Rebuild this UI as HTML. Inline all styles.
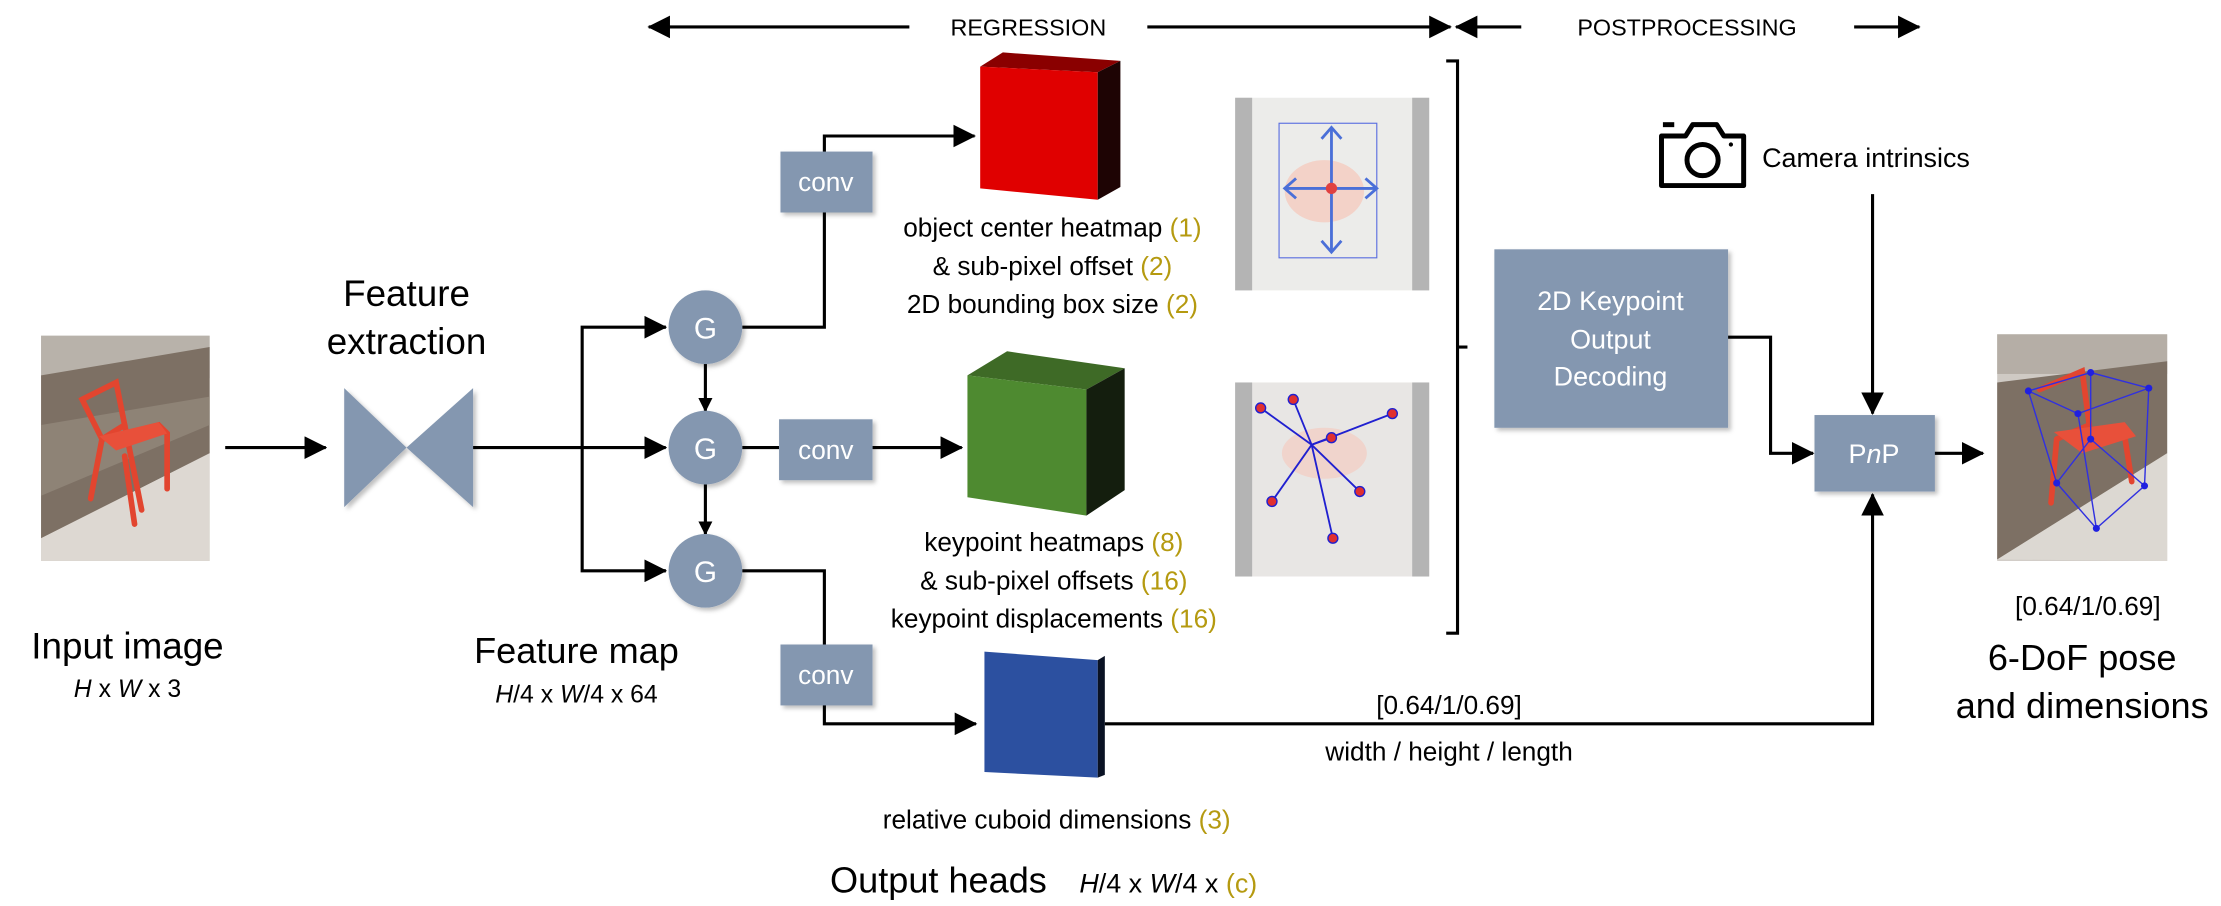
<!DOCTYPE html>
<html><head><meta charset="utf-8"><style>
html,body{margin:0;padding:0;background:#fff;}
svg{display:block;}
text{font-family:"Liberation Sans",sans-serif;fill:#000;}
.y{fill:#b59a10;}
</style></head><body>
<svg width="2221" height="906" viewBox="0 0 1568 639.6" xmlns="http://www.w3.org/2000/svg">
<defs>
<marker id="a" markerWidth="10" markerHeight="10" refX="9" refY="5" orient="auto" markerUnits="userSpaceOnUse" viewBox="0 0 10 10"><path d="M0,0 L10,5 L0,10 z" fill="#000"/></marker>
<marker id="b" markerWidth="16" markerHeight="16" refX="15" refY="8" orient="auto" markerUnits="userSpaceOnUse" viewBox="0 0 16 16"><path d="M0,0 L16,8 L0,16 z" fill="#000"/></marker>
<filter id="sh" x="-10%" y="-10%" width="130%" height="130%"><feDropShadow dx="2" dy="2" stdDeviation="1.5" flood-color="#000" flood-opacity="0.25"/></filter>
</defs>

<g stroke="#000" stroke-width="2.2" fill="none">
<line x1="642" y1="19" x2="458" y2="19" marker-end="url(#b)"/>
<line x1="810" y1="19" x2="1024" y2="19" marker-end="url(#b)"/>
<line x1="1074" y1="19" x2="1028" y2="19" marker-end="url(#b)"/>
<line x1="1309" y1="19" x2="1355" y2="19" marker-end="url(#b)"/>
</g>
<text x="726" y="25" font-size="16.5" text-anchor="middle">REGRESSION</text>
<text x="1191" y="25" font-size="16.5" text-anchor="middle">POSTPROCESSING</text>

<g>
<rect x="29" y="237" width="119" height="159" fill="#cfcac4"/>
<rect x="29" y="237" width="119" height="30" fill="#b8b2aa"/>
<polygon points="29,265 148,245 148,320 29,380" fill="#7d7064"/>
<polygon points="29,300 148,280 148,300 29,350" fill="#8e8376"/>
<polygon points="29,380 148,320 148,396 29,396" fill="#ddd8d2"/>
<g stroke="#e2452f" stroke-width="4" fill="none" stroke-linecap="round">
<path d="M58,282 L82,270 L88,300 L72,310 Z"/>
<path d="M72,310 L64,352"/><path d="M88,300 L100,360"/>
<path d="M72,310 L112,300 L118,306 L118,345"/><path d="M88,322 L95,370"/>
</g>
<polygon points="70,308 112,298 118,306 82,318" fill="#e8503a"/>
</g>
<text x="90" y="465" font-size="26" text-anchor="middle">Input image</text>
<text x="90" y="492" font-size="17.5" text-anchor="middle"><tspan font-style="italic">H</tspan> x <tspan font-style="italic">W</tspan> x 3</text>

<line x1="159" y1="316" x2="230" y2="316" stroke="#000" stroke-width="2.2" marker-end="url(#b)"/>

<polygon points="243,274 287,316 334,274 334,358 287,316 243,358" fill="#8497b0" filter="url(#sh)"/>
<text x="287" y="216" font-size="26" text-anchor="middle">Feature</text>
<text x="287" y="250" font-size="26" text-anchor="middle">extraction</text>
<text x="407" y="468" font-size="25.5" text-anchor="middle">Feature map</text>
<text x="407" y="496" font-size="17.5" text-anchor="middle" font-style="italic">H<tspan font-style="normal">/4 x </tspan>W<tspan font-style="normal">/4 x 64</tspan></text>

<g stroke="#000" stroke-width="2.2" fill="none">
<line x1="334" y1="316" x2="470" y2="316" marker-end="url(#b)"/>
<polyline points="470,231 411,231 411,403 470,403"/>
<line x1="455" y1="231" x2="470" y2="231" marker-end="url(#b)"/>
<line x1="455" y1="403" x2="470" y2="403" marker-end="url(#b)"/>
<line x1="498" y1="257" x2="498" y2="290" marker-end="url(#a)"/>
<line x1="498" y1="342" x2="498" y2="377" marker-end="url(#a)"/>
<polyline points="524,231 582,231 582,96 688,96" marker-end="url(#b)"/>
<line x1="524" y1="316" x2="550" y2="316"/>
<line x1="616" y1="316" x2="679" y2="316" marker-end="url(#b)"/>
<polyline points="524,403 582,403 582,511 689,511" marker-end="url(#b)"/>
<polyline points="780,511 1322,511 1322,349" marker-end="url(#b)"/>
<line x1="1322" y1="137" x2="1322" y2="292" marker-end="url(#b)"/>
<polyline points="1219,238 1250,238 1250,320 1280,320" marker-end="url(#b)"/>
<line x1="1365" y1="320" x2="1400" y2="320" marker-end="url(#b)"/>
<polyline points="1021,43 1029,43 1029,447 1021,447"/>
<line x1="1029" y1="245" x2="1036" y2="245"/>
</g>

<g fill="#8497b0" filter="url(#sh)">
<circle cx="498" cy="231" r="26"/><circle cx="498" cy="316" r="26"/><circle cx="498" cy="403" r="26"/>
</g>
<g font-size="21" text-anchor="middle"><text x="498" y="239" style="fill:#fff">G</text><text x="498" y="324" style="fill:#fff">G</text><text x="498" y="411" style="fill:#fff">G</text></g>

<g fill="#8497b0" filter="url(#sh)">
<rect x="551" y="107" width="65" height="43"/>
<rect x="550" y="296" width="66" height="43"/>
<rect x="551" y="455" width="65" height="43"/>
</g>
<g font-size="18.5" text-anchor="middle"><text x="583" y="135" style="fill:#fff">conv</text><text x="583" y="324" style="fill:#fff">conv</text><text x="583" y="483" style="fill:#fff">conv</text></g>

<polygon points="692,47 708,37 791,43 775,51" fill="#8a0000"/>
<polygon points="692,47 775,51 775,141 692,133" fill="#e00000"/>
<polygon points="775,51 791,43 791,132 775,141" fill="#1e0404"/>
<polygon points="683,265 711,248 794,260 767,275" fill="#3e6a26"/>
<polygon points="683,265 767,275 767,364 683,351" fill="#4e8a30"/>
<polygon points="767,275 794,260 794,346 767,364" fill="#141e0e"/>
<polygon points="695,460 775,466 775,549 695,545" fill="#2c50a0"/>
<polygon points="775,466 780,463 780,547 775,549" fill="#0a1224"/>

<g font-size="18.5" text-anchor="middle">
<text x="743" y="167">object center heatmap <tspan class="y">(1)</tspan></text>
<text x="743" y="194">&amp; sub-pixel offset <tspan class="y">(2)</tspan></text>
<text x="743" y="221">2D bounding box size <tspan class="y">(2)</tspan></text>
<text x="744" y="389">keypoint heatmaps <tspan class="y">(8)</tspan></text>
<text x="744" y="416">&amp; sub-pixel offsets <tspan class="y">(16)</tspan></text>
<text x="744" y="443">keypoint displacements <tspan class="y">(16)</tspan></text>
<text x="746" y="585">relative cuboid dimensions <tspan class="y">(3)</tspan></text>
<text x="1023" y="504">[0.64/1/0.69]</text>
<text x="1023" y="537">width / height / length</text>
<text x="1474" y="434">[0.64/1/0.69]</text>
<text x="1244" y="118" text-anchor="start" font-size="19">Camera intrinsics</text>
</g>
<text x="586" y="630" font-size="25.5">Output heads</text>
<text x="762" y="630" font-size="19" font-style="italic">H<tspan font-style="normal">/4 x </tspan>W<tspan font-style="normal">/4 x </tspan><tspan font-style="normal" class="y">(c)</tspan></text>

<rect x="872" y="69" width="137" height="136" fill="#ececea"/>
<rect x="872" y="69" width="12" height="136" fill="#b4b4b4"/>
<rect x="997" y="69" width="12" height="136" fill="#b4b4b4"/>
<ellipse cx="935" cy="135" rx="28" ry="22" fill="#f3d2c8"/>
<rect x="903" y="87" width="69" height="95" fill="none" stroke="#5a6ee0" stroke-width="0.8"/>
<g stroke="#4a6fd8" stroke-width="2" fill="none">
<line x1="940" y1="90" x2="940" y2="178"/><line x1="907" y1="133" x2="972" y2="133"/>
<polyline points="933,98 940,90 947,98"/><polyline points="933,170 940,178 947,170"/>
<polyline points="915,126 907,133 915,140"/><polyline points="964,126 972,133 964,140"/>
</g>
<circle cx="940" cy="133" r="4" fill="#e04040"/>

<rect x="872" y="270" width="137" height="137" fill="#e8e6e4"/>
<rect x="872" y="270" width="12" height="137" fill="#b4b4b4"/>
<rect x="997" y="270" width="12" height="137" fill="#b4b4b4"/>
<ellipse cx="935" cy="320" rx="30" ry="18" fill="#f0d4cc"/>
<g stroke="#2020d0" stroke-width="1.3">
<line x1="926" y1="314" x2="890" y2="288"/><line x1="926" y1="314" x2="913" y2="282"/>
<line x1="926" y1="314" x2="983" y2="292"/><line x1="926" y1="314" x2="940" y2="309"/>
<line x1="926" y1="314" x2="898" y2="354"/><line x1="926" y1="314" x2="960" y2="347"/>
<line x1="926" y1="314" x2="941" y2="380"/>
</g>
<g fill="#e03030" stroke="#2020d0" stroke-width="1">
<circle cx="890" cy="288" r="3.5"/><circle cx="913" cy="282" r="3.5"/><circle cx="983" cy="292" r="3.5"/>
<circle cx="940" cy="309" r="3.5"/><circle cx="898" cy="354" r="3.5"/><circle cx="960" cy="347" r="3.5"/><circle cx="941" cy="380" r="3.5"/>
</g>

<rect x="1055" y="176" width="165" height="126" fill="#8497b0" filter="url(#sh)"/>
<g font-size="19" text-anchor="middle"><text x="1137" y="219" style="fill:#fff">2D Keypoint</text><text x="1137" y="246" style="fill:#fff">Output</text><text x="1137" y="272" style="fill:#fff">Decoding</text></g>

<g fill="none" stroke="#000" stroke-width="3.5" stroke-linejoin="round">
<path d="M1173,96 L1190,96 L1195,88 L1212,88 L1217,96 L1231,96 L1231,131 L1173,131 Z"/>
<circle cx="1202" cy="113" r="11"/>
<line x1="1174" y1="88" x2="1182" y2="88"/>
</g>
<circle cx="1222" cy="102" r="1.5" fill="#000"/>

<rect x="1281" y="293" width="85" height="54" fill="#8497b0" filter="url(#sh)"/>
<text x="1323" y="327" font-size="19" text-anchor="middle" style="fill:#fff">P<tspan font-style="italic" style="fill:#fff">n</tspan>P</text>

<rect x="1410" y="236" width="120" height="160" fill="#cfcac4"/>
<rect x="1410" y="236" width="120" height="28" fill="#b5aea6"/>
<polygon points="1410,270 1530,255 1530,320 1410,395" fill="#7d7064"/>
<polygon points="1410,395 1530,320 1530,396" fill="#dcd8d2"/>
<g stroke="#e2452f" stroke-width="4" fill="none" stroke-linecap="round">
<path d="M1440,275 L1470,262 L1475,300 L1452,310"/><path d="M1452,310 L1448,355"/><path d="M1500,308 L1505,340"/>
</g>
<polygon points="1450,305 1500,298 1508,308 1470,320" fill="#e8503a"/>
<g stroke="#3030e0" stroke-width="1" fill="none">
<polygon points="1432,276 1476,263 1517,274 1467,292"/>
<polygon points="1452,341 1476,310 1514,343 1480,373"/>
<line x1="1432" y1="276" x2="1452" y2="341"/><line x1="1476" y1="263" x2="1476" y2="310"/>
<line x1="1517" y1="274" x2="1514" y2="343"/><line x1="1467" y1="292" x2="1480" y2="373"/>
</g>
<g fill="#2020e0"><circle cx="1432" cy="276" r="2.5"/><circle cx="1476" cy="263" r="2.5"/><circle cx="1517" cy="274" r="2.5"/><circle cx="1467" cy="292" r="2.5"/><circle cx="1452" cy="341" r="2.5"/><circle cx="1476" cy="310" r="2.5"/><circle cx="1514" cy="343" r="2.5"/><circle cx="1480" cy="373" r="2.5"/></g>

<text x="1470" y="473" font-size="25.5" text-anchor="middle">6-DoF pose</text>
<text x="1470" y="507" font-size="25.5" text-anchor="middle">and dimensions</text>
</svg>
</body></html>
